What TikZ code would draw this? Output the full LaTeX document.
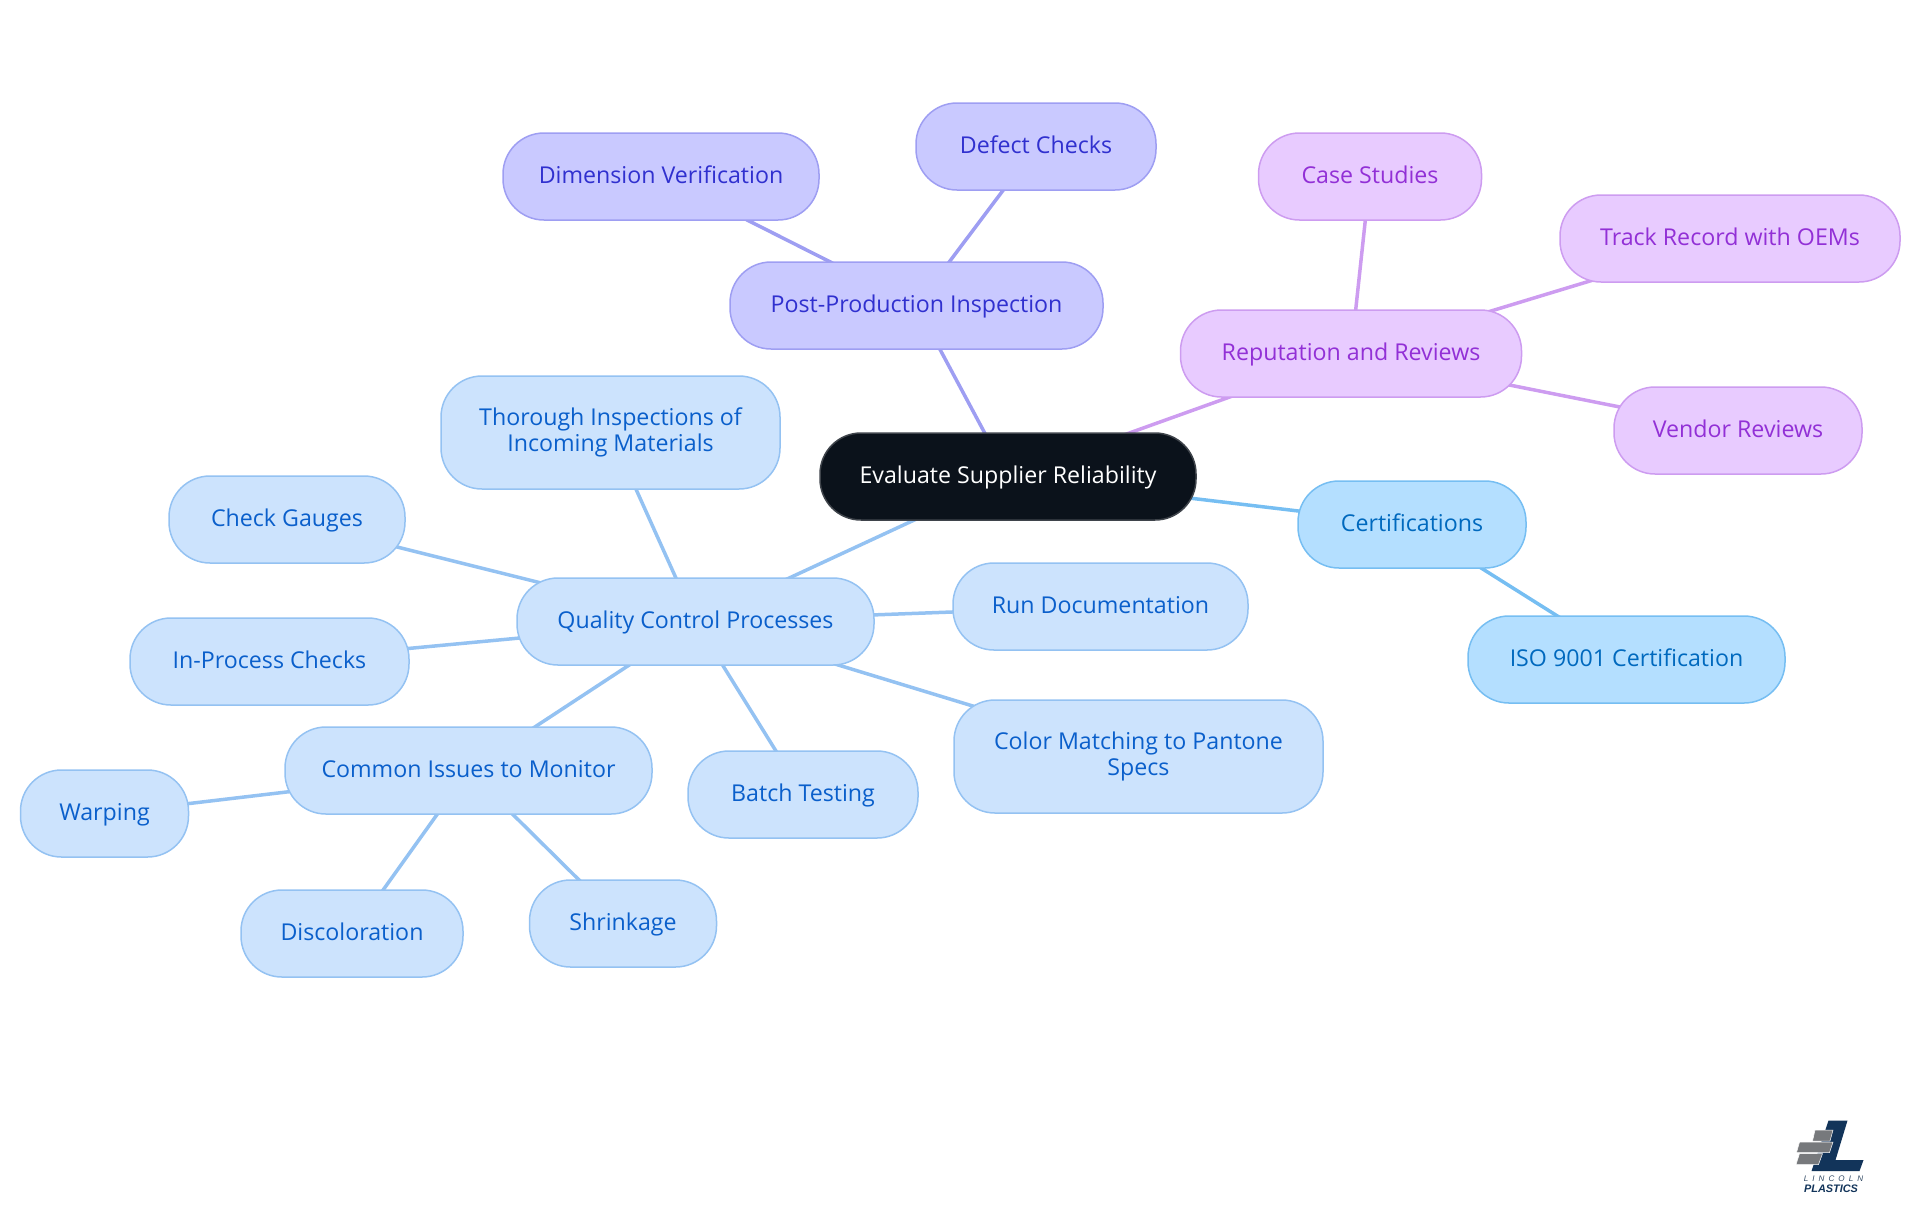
\documentclass[tikz,border=0pt]{standalone}
\usepackage{fontspec}
\setmainfont{Open Sans}
\newfontfamily\logofont{Liberation Sans}
\usepackage{tikz}
\usetikzlibrary{bayesnet}
\usetikzlibrary{positioning}
\usetikzlibrary{backgrounds}
\definecolor{rootfill}{HTML}{0B121B}
\definecolor{rootline}{HTML}{3F444B}
\definecolor{qcfill}{HTML}{CCE3FD}
\definecolor{qcline}{HTML}{94C2F2}
\definecolor{qctext}{HTML}{0A5FCB}
\definecolor{certfill}{HTML}{B4DFFF}
\definecolor{certline}{HTML}{76BEF2}
\definecolor{certtext}{HTML}{0069BE}
\definecolor{postfill}{HTML}{C9C9FF}
\definecolor{postline}{HTML}{9E9EF2}
\definecolor{posttext}{HTML}{3030CF}
\definecolor{repfill}{HTML}{E8CBFF}
\definecolor{repline}{HTML}{CD9CF0}
\definecolor{reptext}{HTML}{9230D6}
\definecolor{logonavy}{HTML}{12345A}
\definecolor{logogray}{HTML}{77797C}
\tikzset{
	mapnode/.style={draw, rounded corners=.82cm, minimum height=1.74cm, inner sep=0, outer sep=0,
		align=center, line width=.03cm, text height=.447cm, text depth=.172cm,
		font=\fontsize{13.2}{14.8}\selectfont},
	tallnode/.style={minimum height=2.26cm, text height=, text depth=},
	rootnode/.style={mapnode, fill=rootfill, draw=rootline, text=white},
	qcnode/.style={mapnode, fill=qcfill, draw=qcline, text=qctext},
	certnode/.style={mapnode, fill=certfill, draw=certline, text=certtext},
	postnode/.style={mapnode, fill=postfill, draw=postline, text=posttext},
	repnode/.style={mapnode, fill=repfill, draw=repline, text=reptext},
	qclink/.style={-, line width=.07cm, draw=qcline},
	certlink/.style={-, line width=.07cm, draw=certline},
	postlink/.style={-, line width=.07cm, draw=postline},
	replink/.style={-, line width=.07cm, draw=repline}
}
\begin{document}
\begin{tikzpicture}
	\useasboundingbox (0,0) rectangle (38.4,-24.3);
	% Define nodes
	\node[rootnode, minimum width=7.52cm] (root) at (20.16,-9.53) {Evaluate Supplier Reliability};
	% Post-production branch
	\node[postnode, minimum width=7.46cm, above=1.68cm of root, xshift=-1.83cm] (post) {Post-Production Inspection};
	\node[postnode, minimum width=6.32cm, above=.84cm of post, xshift=-5.11cm] (dimension) {Dimension Verification};
	\node[postnode, minimum width=4.8cm, above=1.44cm of post, xshift=2.39cm] (defect) {Defect Checks};
	% Reputation branch
	\node[repnode, minimum width=6.82cm, above=.72cm of root, xshift=6.86cm] (rep) {Reputation and Reviews};
	\node[repnode, minimum width=4.46cm, above=1.8cm of rep, xshift=.38cm] (case) {Case Studies};
	\node[repnode, minimum width=6.8cm, above=.56cm of rep, xshift=7.58cm] (track) {Track Record with OEMs};
	\node[repnode, minimum width=4.96cm, right=1.85cm of rep, yshift=-1.54cm] (vendor) {Vendor Reviews};
	% Certification branch
	\node[certnode, minimum width=4.56cm, right=2.04cm of root, yshift=-.96cm] (cert) {Certifications};
	\node[certnode, minimum width=6.34cm, below=.96cm of cert, xshift=4.29cm] (iso) {ISO 9001 Certification};
	% Quality control branch
	\node[qcnode, minimum width=7.14cm, below=1.16cm of root, xshift=-6.25cm] (qc) {Quality Control Processes};
	\node[qcnode, tallnode, minimum width=6.78cm, above=1.78cm of qc, xshift=-1.7cm] (thorough) {Thorough Inspections of\\Incoming Materials};
	\node[qcnode, minimum width=4.72cm, left=2.24cm of qc, yshift=2.04cm] (gauges) {Check Gauges};
	\node[qcnode, minimum width=5.58cm, left=2.16cm of qc, yshift=-.8cm] (inprocess) {In-Process Checks};
	\node[qcnode, minimum width=5.9cm, right=1.58cm of qc, yshift=.3cm] (rundoc) {Run Documentation};
	\node[qcnode, tallnode, minimum width=7.38cm, below=.7cm of qc, xshift=8.86cm] (color) {Color Matching to Pantone\\Specs};
	\node[qcnode, minimum width=4.6cm, below=1.72cm of qc, xshift=2.15cm] (batch) {Batch Testing};
	\node[qcnode, minimum width=7.34cm, below=1.24cm of qc, xshift=-4.54cm] (issues) {Common Issues to Monitor};
	\node[qcnode, minimum width=3.36cm, left=1.93cm of issues, yshift=-.86cm] (warping) {Warping};
	\node[qcnode, minimum width=4.44cm, below=1.52cm of issues, xshift=-2.33cm] (discolor) {Discoloration};
	\node[qcnode, minimum width=3.74cm, below=1.32cm of issues, xshift=3.09cm] (shrink) {Shrinkage};
	% Connect the nodes
	\begin{pgfonlayer}{background}
		\edge[postlink] {root.center} {post.center} ; %
		\edge[postlink] {post.center} {dimension.center,defect.center} ; %
		\edge[replink] {root.center} {rep.center} ; %
		\edge[replink] {rep.center} {case.center,track.center,vendor.center} ; %
		\edge[certlink] {root.center} {cert.center} ; %
		\edge[certlink] {cert.center} {iso.center} ; %
		\edge[qclink] {root.center} {qc.center} ; %
		\edge[qclink] {qc.center} {thorough.center,gauges.center,inprocess.center,rundoc.center,color.center,batch.center,issues.center} ; %
		\edge[qclink] {issues.center} {warping.center,discolor.center,shrink.center} ; %
	\end{pgfonlayer}
	% Logo
	\fill[logonavy] (36.57,-22.41) -- (36.95,-22.41) -- (36.71,-23.2) -- (37.27,-23.2) -- (37.19,-23.42) -- (36.23,-23.42) -- cycle;
	\filldraw[logogray, draw=white, line width=.01cm] (36.3,-22.6) -- (36.66,-22.6) -- (36.6,-22.82) -- (36.25,-22.82) -- cycle;
	\filldraw[logogray, draw=white, line width=.01cm] (35.99,-22.84) -- (36.66,-22.84) -- (36.59,-23.05) -- (35.93,-23.05) -- cycle;
	\filldraw[logogray, draw=white, line width=.01cm] (35.99,-23.07) -- (36.45,-23.07) -- (36.37,-23.29) -- (35.92,-23.29) -- cycle;
	\node[inner sep=0, text=logonavy!70!gray, font={\logofont\addfontfeature{LetterSpace=50}\fontsize{4.6}{4.6}\selectfont\itshape}] (lincoln) at (36.67,-23.57) {LINCOLN};
	\node[inner sep=0, text=logonavy, font={\logofont\fontsize{6.2}{6.2}\selectfont\bfseries\itshape}] (plastics) at (36.62,-23.78) {PLASTICS};
\end{tikzpicture}
\end{document}
